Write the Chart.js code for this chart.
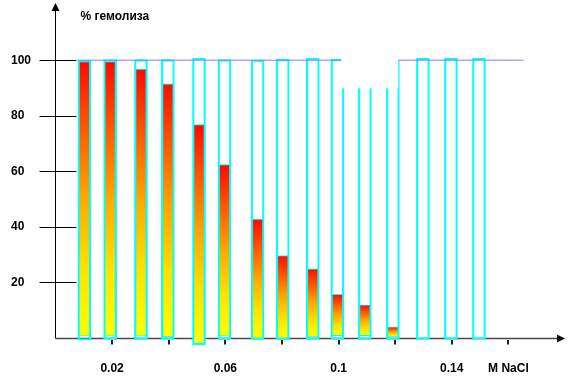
<!DOCTYPE html>
<html>
<head>
<meta charset="utf-8">
<script src="https://cdn.jsdelivr.net/npm/chart.js@4/dist/chart.umd.min.js"></script>
<style>
  html, body { margin: 0; padding: 0; background: #fff; }
  #wrap { width: 568px; height: 390px; position: relative; }
</style>
</head>
<body>
<div id="wrap"><canvas id="chart"></canvas></div>
<script>
// ==============================
// data
// ==============================
const concentrations = [0.0102, 0.0193, 0.0302, 0.0397, 0.0507, 0.0597, 0.0714, 0.0803, 0.0909, 0.0996, 0.1093, 0.1192, 0.1298, 0.1397, 0.1496];
const frameTop = [100, 100.2, 100.2, 100.2, 100.7, 100.2, 100.1, 100.3, 100.7, 100.3, 100, 100, 100.7, 100.7, 100.7];
const frameBase = [-0.8, -0.5, -0.5, -0.5, -2.5, -0.5, -0.5, -0.5, -0.5, -0.5, -0.5, -0.5, -0.5, -0.5, -0.5];
const hemolysis = [99.5, 99.5, 96.8, 91.5, 76.8, 62.4, 42.8, 29.7, 24.9, 15.7, 11.9, 4.0];
const hemolysisBase = [0.7, 0.7, 0.7, 0.4, -2.5, 0.7, -0.3, -0.3, 0.3, 0.8, 0.8, 0.3];
const fullLine = [{ x: 0.0079, y: 100 }, { x: 0.1653, y: 100 }];
const yTicks = [20, 40, 60, 80, 100];
const xTicks = [0.02, 0.04, 0.06, 0.08, 0.1, 0.12, 0.14, 0.16];
const xLabels = ["0.02", "", "0.06", "", "0.1", "", "0.14", "M NaCl"];
const maskX = [0.1010, 0.1211];
const maskY = [89.9, 110];
const yTitle = "% гемолиза";

const FONT = { family: "'Liberation Sans', Arial, sans-serif", size: 12, weight: "bold" };

// ==============================
// axes plugin (arrows, crossing ticks)
// ==============================
const axesPlugin = {
  id: "axes",

  beforeDatasetsDraw(chart) {
    const ctx = chart.ctx;
    const xs = chart.scales.x;
    const ys = chart.scales.y;
    const area = chart.chartArea;
    const ax = Math.round(xs.getPixelForValue(0)) - 0.5;
    const ay = Math.round(ys.getPixelForValue(0)) + 0.5;
    const tipY = 3;

    ctx.save();

    // y axis
    ctx.strokeStyle = "#000";
    ctx.lineWidth = 1;
    ctx.beginPath();
    ctx.moveTo(ax, ay);
    ctx.lineTo(ax, tipY + 6);
    ctx.stroke();
    ctx.fillStyle = "#000";
    ctx.beginPath();
    ctx.moveTo(ax, tipY);
    ctx.lineTo(ax - 4, tipY + 8);
    ctx.lineTo(ax + 4, tipY + 8);
    ctx.closePath();
    ctx.fill();

    // y ticks across the axis
    yTicks.forEach((v) => {
      const py = Math.round(ys.getPixelForValue(v)) + 0.5;
      ctx.beginPath();
      ctx.moveTo(ax - 16, py);
      ctx.lineTo(ax + 21, py);
      ctx.stroke();
    });

    // x axis
    ctx.strokeStyle = "#4a4a4a";
    ctx.lineWidth = 1.5;
    ctx.beginPath();
    ctx.moveTo(ax, ay);
    ctx.lineTo(area.right - 4, ay);
    ctx.stroke();
    ctx.fillStyle = "#111";
    ctx.beginPath();
    ctx.moveTo(area.right, ay);
    ctx.lineTo(area.right - 8, ay - 4);
    ctx.lineTo(area.right - 8, ay + 4);
    ctx.closePath();
    ctx.fill();

    // x ticks
    ctx.strokeStyle = "#222";
    ctx.lineWidth = 2;
    xTicks.forEach((v) => {
      const px = Math.round(xs.getPixelForValue(v));
      ctx.beginPath();
      ctx.moveTo(px, ay + 1.5);
      ctx.lineTo(px, ay + 6);
      ctx.stroke();
    });

    ctx.restore();
  },

  afterDatasetsDraw(chart) {
    // white patch over the frames around 0.11
    const ctx = chart.ctx;
    const xs = chart.scales.x;
    const ys = chart.scales.y;
    const l = xs.getPixelForValue(maskX[0]);
    const r = xs.getPixelForValue(maskX[1]);
    const t = ys.getPixelForValue(maskY[1]);
    const b = ys.getPixelForValue(maskY[0]);
    ctx.save();
    ctx.fillStyle = "#fff";
    ctx.fillRect(l, t, r - l, b - t);
    ctx.restore();
  },

  afterDraw(chart) {
    const ctx = chart.ctx;
    const xs = chart.scales.x;
    ctx.save();
    ctx.font = `bold ${FONT.size}px ${FONT.family}`;
    ctx.fillStyle = "#000";
    ctx.textAlign = "left";
    ctx.textBaseline = "middle";
    ctx.fillText(yTitle, xs.getPixelForValue(0) + 25, 17);
    ctx.restore();
  },
};

// ==============================
// gradient fill
// ==============================
function barGradient(c) {
  const chart = c.chart;
  if (!chart.chartArea || !c.raw) return "#ff8000";
  const ys = chart.scales.y;
  const top = ys.getPixelForValue(c.raw.y[1]);
  const bot = ys.getPixelForValue(c.raw.y[0]);
  const g = chart.ctx.createLinearGradient(0, top, 0, bot);
  g.addColorStop(0, "#ff0a00");
  g.addColorStop(0.25, "#ff5a00");
  g.addColorStop(0.5, "#ffa800");
  g.addColorStop(0.75, "#ffe000");
  g.addColorStop(1, "#ffff00");
  return g;
}

// ==============================
// create
// ==============================
new Chart(document.getElementById("chart"), {
  data: {
    datasets: [
      {
        type: "line",
        data: fullLine,
        borderColor: "#7f7fff",
        borderWidth: 1,
        pointRadius: 0,
        order: 0,
      },
      {
        type: "bar",
        data: concentrations.map((x, i) => ({ x, y: [frameBase[i], frameTop[i]] })),
        backgroundColor: "rgba(0,0,0,0)",
        borderColor: "#00ffff",
        borderWidth: 1.5,
        borderSkipped: false,
        barThickness: 13,
        grouped: false,
        order: 1,
      },
      {
        type: "bar",
        data: hemolysis.map((v, i) => ({ x: concentrations[i], y: [hemolysisBase[i], v] })),
        backgroundColor: barGradient,
        borderColor: "#00ffff",
        borderWidth: 1,
        borderSkipped: false,
        barThickness: 12,
        grouped: false,
        order: 2,
      },
    ],
  },

  options: {
    responsive: true,
    maintainAspectRatio: false,
    animation: false,
    layout: { padding: { left: 11, right: 3, top: 4, bottom: 0 } },
    plugins: {
      legend: { display: false },
      tooltip: { enabled: false },
    },
    scales: {
      x: {
        type: "linear",
        min: 0,
        max: 0.18,
        offset: false,
        grid: { display: false, drawTicks: false },
        border: { display: false },
        afterBuildTicks: (s) => { s.ticks = xTicks.map((v) => ({ value: v })); },
        afterFit: (s) => { s.height = 42; },
        ticks: {
          autoSkip: false,
          maxRotation: 0,
          padding: 13,
          color: "#000",
          font: FONT,
          callback: (v, i) => xLabels[i],
        },
      },
      y: {
        min: -3.6,
        max: 118,
        grid: { display: false, drawTicks: false },
        border: { display: false },
        afterBuildTicks: (s) => { s.ticks = yTicks.map((v) => ({ value: v })); },
        afterFit: (s) => { s.width = 44.5; },
        ticks: {
          crossAlign: "far",
          color: "#000",
          font: FONT,
        },
      },
    },
  },

  plugins: [axesPlugin],
});
</script>
</body>
</html>
